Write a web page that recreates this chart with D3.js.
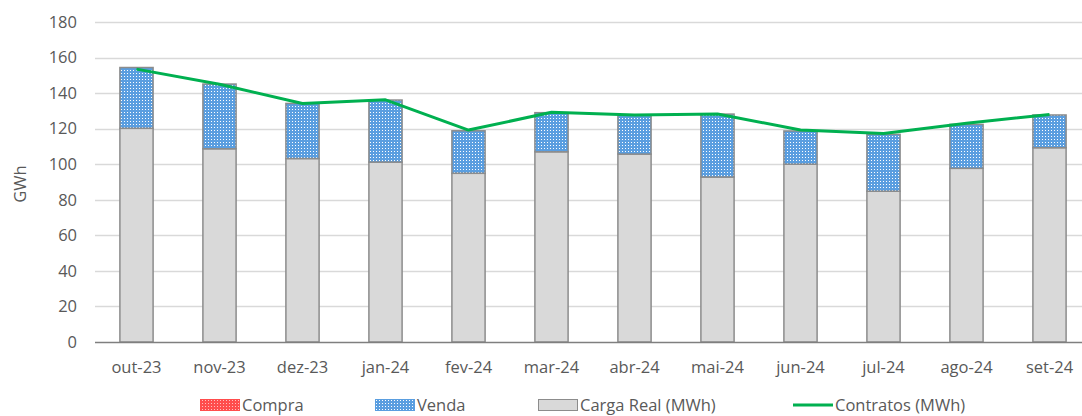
<!DOCTYPE html>
<html>
<head>
<meta charset="utf-8">
<script src="https://cdn.jsdelivr.net/npm/d3@7"></script>
<style>
  body { margin: 0; background: #fff; }
  text { font-family: "Open Sans", "Liberation Sans", Arial, sans-serif; fill: #595959; }
</style>
</head>
<body>
<svg></svg>
<script>
const months = ["out-23", "nov-23", "dez-23", "jan-24", "fev-24", "mar-24",
  "abr-24", "mai-24", "jun-24", "jul-24", "ago-24", "set-24"];
const carga = [120.2, 108.7, 103.2, 101.2, 94.9, 107.0, 105.7, 92.8, 100.0, 84.8, 97.7, 109.3];
const venda = [34.2, 36.4, 31.0, 34.9, 23.9, 22.0, 22.0, 35.4, 18.7, 32.0, 24.7, 18.4];
const compra = [0, 0, 0, 0, 0, 0, 0, 0, 0, 0, 0, 0];
const contratos = [153.5, 145.0, 134.2, 136.2, 119.2, 129.2, 127.7, 128.3, 119.2, 117.3, 123.0, 128.0];
const yTicks = [0, 20, 40, 60, 80, 100, 120, 140, 160, 180];

const width = 1082;
const height = 416;
const plotLeft = 95;
const plotBottom = 342;
const plotTop = 22;
const fontSize = "16.5px";

const svg = d3.select("svg").attr("width", width).attr("height", height);

// patterns for the hatched series
const defs = svg.append("defs");
function checker(id, base, dot) {
  const p = defs.append("pattern")
    .attr("id", id)
    .attr("patternUnits", "userSpaceOnUse")
    .attr("width", 3)
    .attr("height", 3);
  p.append("rect").attr("width", 3).attr("height", 3).attr("fill", base);
  p.append("rect").attr("x", 1).attr("y", 1).attr("width", 1).attr("height", 1).attr("fill", dot);
}
checker("blue", "#5a9ee0", "#ffffff");
checker("red", "#ff4d4d", "#ffc0c0");

var xScale = d3.scaleBand()
  .domain(months)
  .range([plotLeft, plotLeft + 12 * 83])
  .paddingInner(0.6)
  .paddingOuter(0.3);

var yScale = d3.scaleLinear()
  .domain([0, 180])
  .range([plotBottom, plotTop]);

// gridlines
svg.append("g")
  .selectAll("line")
  .data(yTicks.slice(1))
  .enter()
  .append("line")
  .attr("x1", plotLeft)
  .attr("x2", width)
  .attr("y1", d => Math.round(yScale(d)) + 0.5)
  .attr("y2", d => Math.round(yScale(d)) + 0.5)
  .attr("stroke", "#d9d9d9")
  .attr("stroke-width", 1.5);

// y tick labels
svg.append("g")
  .selectAll("text")
  .data(yTicks)
  .enter()
  .append("text")
  .attr("x", 77)
  .attr("y", d => yScale(d))
  .attr("dy", "0.35em")
  .style("text-anchor", "end")
  .style("font-size", fontSize)
  .text(d => d);

svg.append("text")
  .attr("transform", "translate(20," + 184 + ") rotate(-90)")
  .attr("dy", "0.35em")
  .style("text-anchor", "middle")
  .style("font-size", fontSize)
  .text("GWh");

const stacks = months.map((m, i) => ({ m, carga: carga[i], venda: venda[i], compra: compra[i] }));

const bars = svg.append("g")
  .selectAll("g")
  .data(stacks)
  .enter()
  .append("g");

bars.append("rect")
  .attr("x", d => xScale(d.m))
  .attr("width", xScale.bandwidth())
  .attr("y", d => yScale(d.carga))
  .attr("height", d => yScale(0) - yScale(d.carga))
  .attr("fill", "#d9d9d9")
  .attr("stroke", "#8c8c8c")
  .attr("stroke-width", 1.5);

bars.append("rect")
  .attr("x", d => xScale(d.m))
  .attr("width", xScale.bandwidth())
  .attr("y", d => yScale(d.carga + d.venda))
  .attr("height", d => yScale(d.carga) - yScale(d.carga + d.venda))
  .attr("fill", "url(#blue)")
  .attr("stroke", "#8c8c8c")
  .attr("stroke-width", 1.5);

// x axis line
svg.append("line")
  .attr("x1", plotLeft)
  .attr("x2", width)
  .attr("y1", plotBottom + 0.5)
  .attr("y2", plotBottom + 0.5)
  .attr("stroke", "#7f7f7f")
  .attr("stroke-width", 1.5);

svg.append("g")
  .selectAll("text")
  .data(months)
  .enter()
  .append("text")
  .attr("x", d => xScale(d) + xScale.bandwidth() / 2)
  .attr("y", 373)
  .style("text-anchor", "middle")
  .style("font-size", fontSize)
  .text(d => d);

// contratos line
const line = d3.line()
  .x((d, i) => xScale(months[i]) + xScale.bandwidth() / 2)
  .y(d => yScale(d));

svg.append("path")
  .datum(contratos)
  .attr("d", line)
  .attr("fill", "none")
  .attr("stroke", "#00b050")
  .attr("stroke-width", 3)
  .attr("stroke-linejoin", "round");

// legend
const legend = svg.append("g").attr("transform", "translate(0,405)");
const items = [
  { label: "Compra", x: 200, kind: "rect", fill: "url(#red)", stroke: "#ff4d4d" },
  { label: "Venda", x: 375, kind: "rect", fill: "url(#blue)", stroke: "#5a9ee0" },
  { label: "Carga Real (MWh)", x: 538, kind: "rect", fill: "#d9d9d9", stroke: "#8c8c8c" },
  { label: "Contratos (MWh)", x: 793, kind: "line" }
];
items.forEach(it => {
  if (it.kind === "rect") {
    legend.append("rect")
      .attr("x", it.x + 0.5).attr("y", -5.5)
      .attr("width", 39).attr("height", 11)
      .attr("fill", it.fill)
      .attr("stroke", it.stroke)
      .attr("stroke-width", 1);
  } else {
    legend.append("line")
      .attr("x1", it.x).attr("x2", it.x + 40)
      .attr("y1", 0).attr("y2", 0)
      .attr("stroke", "#00b050").attr("stroke-width", 3);
  }
  legend.append("text")
    .attr("x", it.x + 42)
    .attr("y", 0)
    .attr("dy", "0.36em")
    .style("font-size", fontSize)
    .text(it.label);
});
</script>
</body>
</html>
